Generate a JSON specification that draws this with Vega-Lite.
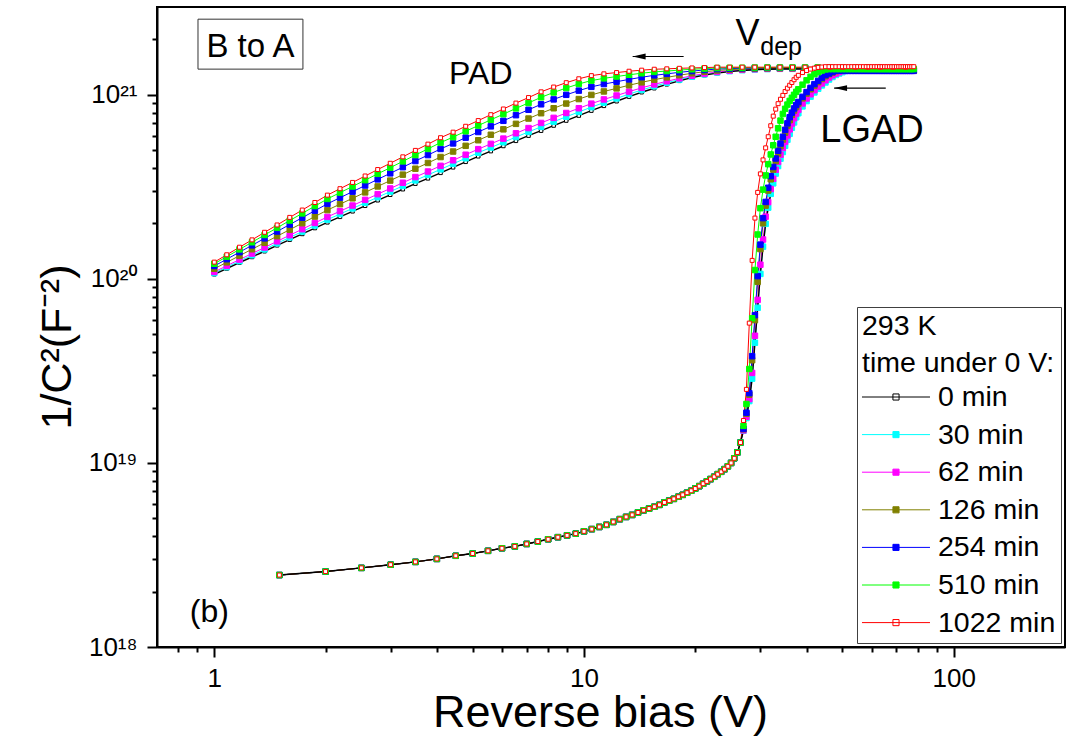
{"$schema":"https://vega.github.io/schema/vega-lite/v6.json","width":908,"height":640,"autosize":{"type":"none"},"padding":{"left":157,"top":7,"right":11,"bottom":94},"background":"white",
"config":{"font":"Liberation Sans","view":{"stroke":"black","strokeWidth":2},
"legend":{"orient":"bottom-right","offset":4,"padding":5,"strokeColor":"#404040","strokeWidth":1,"fillColor":"white","titleFont":"Liberation Sans","titleFontSize":28.5,"titleFontWeight":"normal","titleColor":"black","titleLineHeight":37,"titlePadding":2,"titleLimit":400,"labelFont":"Liberation Sans","labelFontSize":28.5,"labelColor":"black","labelLimit":400,"labelOffset":41,"symbolSize":1156,"symbolStrokeWidth":1,"symbolOffset":0,"rowPadding":5.6}},
"data":{"values":[
{"t":0,"d":"P","V":1,"C":1.059e20},{"t":0,"d":"P","V":1.081,"C":1.138e20},{"t":0,"d":"P","V":1.17,"C":1.225e20},{"t":0,"d":"P","V":1.265,"C":1.315e20},{"t":0,"d":"P","V":1.368,"C":1.413e20},{"t":0,"d":"P","V":1.479,"C":1.521e20},{"t":0,"d":"P","V":1.6,"C":1.633e20},{"t":0,"d":"P","V":1.73,"C":1.754e20},{"t":0,"d":"P","V":1.871,"C":1.888e20},{"t":0,"d":"P","V":2.023,"C":2.028e20},{"t":0,"d":"P","V":2.188,"C":2.173e20},{"t":0,"d":"P","V":2.366,"C":2.328e20},{"t":0,"d":"P","V":2.559,"C":2.495e20},{"t":0,"d":"P","V":2.767,"C":2.673e20},{"t":0,"d":"P","V":2.992,"C":2.864e20},{"t":0,"d":"P","V":3.236,"C":3.069e20},{"t":0,"d":"P","V":3.499,"C":3.289e20},{"t":0,"d":"P","V":3.784,"C":3.516e20},{"t":0,"d":"P","V":4.093,"C":3.767e20},{"t":0,"d":"P","V":4.426,"C":4.036e20},{"t":0,"d":"P","V":4.786,"C":4.325e20},{"t":0,"d":"P","V":5.176,"C":4.634e20},{"t":0,"d":"P","V":5.598,"C":4.943e20},{"t":0,"d":"P","V":6.053,"C":5.272e20},{"t":0,"d":"P","V":6.546,"C":5.623e20},{"t":0,"d":"P","V":7.079,"C":5.998e20},{"t":0,"d":"P","V":7.656,"C":6.383e20},{"t":0,"d":"P","V":8.279,"C":6.808e20},{"t":0,"d":"P","V":8.954,"C":7.244e20},{"t":0,"d":"P","V":9.683,"C":7.709e20},{"t":0,"d":"P","V":10.47,"C":8.204e20},{"t":0,"d":"P","V":11.32,"C":8.71e20},{"t":0,"d":"P","V":12.25,"C":9.226e20},{"t":0,"d":"P","V":13.24,"C":9.772e20},{"t":0,"d":"P","V":14.32,"C":1.033e21},{"t":0,"d":"P","V":15.49,"C":1.086e21},{"t":0,"d":"P","V":16.75,"C":1.14e21},{"t":0,"d":"P","V":18.11,"C":1.191e21},{"t":0,"d":"P","V":19.59,"C":1.239e21},{"t":0,"d":"P","V":21.18,"C":1.279e21},{"t":0,"d":"P","V":22.91,"C":1.312e21},{"t":0,"d":"P","V":24.77,"C":1.337e21},{"t":0,"d":"P","V":26.79,"C":1.355e21},{"t":0,"d":"P","V":28.97,"C":1.368e21},{"t":0,"d":"P","V":31.33,"C":1.377e21},{"t":0,"d":"P","V":33.88,"C":1.38e21},{"t":0,"d":"P","V":36.64,"C":1.38e21},{"t":0,"d":"P","V":39.63,"C":1.38e21},{"t":0,"d":"P","V":42.85,"C":1.38e21},{"t":0,"d":"P","V":46.34,"C":1.38e21},{"t":0,"d":"P","V":50.12,"C":1.38e21},{"t":0,"d":"P","V":54.2,"C":1.38e21},{"t":0,"d":"P","V":58.61,"C":1.38e21},{"t":0,"d":"P","V":63.39,"C":1.38e21},{"t":0,"d":"P","V":68.55,"C":1.38e21},{"t":0,"d":"P","V":74.13,"C":1.38e21},
{"t":0,"d":"L","V":1.5,"C":2.46e18},{"t":0,"d":"L","V":2,"C":2.57e18},{"t":0,"d":"L","V":2.5,"C":2.69e18},{"t":0,"d":"L","V":3,"C":2.8e18},{"t":0,"d":"L","V":3.5,"C":2.9e18},{"t":0,"d":"L","V":4,"C":3.01e18},{"t":0,"d":"L","V":4.5,"C":3.13e18},{"t":0,"d":"L","V":5,"C":3.22e18},{"t":0,"d":"L","V":5.5,"C":3.33e18},{"t":0,"d":"L","V":6,"C":3.44e18},{"t":0,"d":"L","V":6.5,"C":3.52e18},{"t":0,"d":"L","V":7,"C":3.63e18},{"t":0,"d":"L","V":7.5,"C":3.74e18},{"t":0,"d":"L","V":8,"C":3.85e18},{"t":0,"d":"L","V":8.5,"C":3.95e18},{"t":0,"d":"L","V":9,"C":4.04e18},{"t":0,"d":"L","V":9.5,"C":4.13e18},{"t":0,"d":"L","V":10,"C":4.25e18},{"t":0,"d":"L","V":10.5,"C":4.37e18},{"t":0,"d":"L","V":11,"C":4.49e18},{"t":0,"d":"L","V":11.5,"C":4.61e18},{"t":0,"d":"L","V":12,"C":4.78e18},{"t":0,"d":"L","V":12.5,"C":4.95e18},{"t":0,"d":"L","V":13,"C":5.09e18},{"t":0,"d":"L","V":13.5,"C":5.22e18},{"t":0,"d":"L","V":14,"C":5.38e18},{"t":0,"d":"L","V":14.5,"C":5.53e18},{"t":0,"d":"L","V":15,"C":5.65e18},{"t":0,"d":"L","V":15.5,"C":5.78e18},{"t":0,"d":"L","V":16,"C":5.92e18},{"t":0,"d":"L","V":16.5,"C":6.1e18},{"t":0,"d":"L","V":17,"C":6.24e18},{"t":0,"d":"L","V":17.5,"C":6.38e18},{"t":0,"d":"L","V":18,"C":6.55e18},{"t":0,"d":"L","V":18.5,"C":6.71e18},{"t":0,"d":"L","V":19,"C":6.89e18},{"t":0,"d":"L","V":19.5,"C":7.06e18},{"t":0,"d":"L","V":20,"C":7.26e18},{"t":0,"d":"L","V":20.5,"C":7.48e18},{"t":0,"d":"L","V":21,"C":7.71e18},{"t":0,"d":"L","V":21.5,"C":7.94e18},{"t":0,"d":"L","V":22,"C":8.17e18},{"t":0,"d":"L","V":22.5,"C":8.41e18},{"t":0,"d":"L","V":23,"C":8.69e18},{"t":0,"d":"L","V":23.5,"C":8.95e18},{"t":0,"d":"L","V":24,"C":9.25e18},{"t":0,"d":"L","V":24.5,"C":9.59e18},{"t":0,"d":"L","V":25,"C":1e19},{"t":0,"d":"L","V":25.5,"C":1.06e19},{"t":0,"d":"L","V":26,"C":1.14e19},{"t":0,"d":"L","V":26.5,"C":1.29e19},
{"t":0,"d":"L","V":27,"C":1.496e19},{"t":0,"d":"L","V":27.5,"C":1.754e19},{"t":0,"d":"L","V":28,"C":2.168e19},{"t":0,"d":"L","V":28.5,"C":2.871e19},{"t":0,"d":"L","V":29,"C":4.498e19},{"t":0,"d":"L","V":29.5,"C":6.966e19},{"t":0,"d":"L","V":30,"C":1.064e20},{"t":0,"d":"L","V":30.5,"C":1.496e20},{"t":0,"d":"L","V":31,"C":1.991e20},{"t":0,"d":"L","V":31.5,"C":2.438e20},{"t":0,"d":"L","V":32,"C":2.897e20},{"t":0,"d":"L","V":32.5,"C":3.304e20},{"t":0,"d":"L","V":33,"C":3.733e20},{"t":0,"d":"L","V":33.5,"C":4.102e20},{"t":0,"d":"L","V":34,"C":4.498e20},{"t":0,"d":"L","V":34.5,"C":4.887e20},{"t":0,"d":"L","V":35,"C":5.284e20},{"t":0,"d":"L","V":35.5,"C":5.702e20},{"t":0,"d":"L","V":36,"C":6.138e20},{"t":0,"d":"L","V":36.5,"C":6.622e20},{"t":0,"d":"L","V":37,"C":7.079e20},{"t":0,"d":"L","V":37.5,"C":7.551e20},{"t":0,"d":"L","V":38,"C":7.943e20},{"t":0,"d":"L","V":39,"C":8.65e20},{"t":0,"d":"L","V":40,"C":9.247e20},{"t":0,"d":"L","V":41,"C":9.772e20},{"t":0,"d":"L","V":42,"C":1.03e21},{"t":0,"d":"L","V":43,"C":1.079e21},{"t":0,"d":"L","V":44,"C":1.125e21},{"t":0,"d":"L","V":45,"C":1.167e21},{"t":0,"d":"L","V":46,"C":1.211e21},{"t":0,"d":"L","V":47,"C":1.25e21},{"t":0,"d":"L","V":48,"C":1.282e21},{"t":0,"d":"L","V":49,"C":1.306e21},{"t":0,"d":"L","V":50,"C":1.327e21},{"t":0,"d":"L","V":51,"C":1.346e21},{"t":0,"d":"L","V":52,"C":1.349e21},{"t":0,"d":"L","V":53,"C":1.349e21},{"t":0,"d":"L","V":54,"C":1.349e21},{"t":0,"d":"L","V":55,"C":1.349e21},{"t":0,"d":"L","V":56,"C":1.349e21},{"t":0,"d":"L","V":57,"C":1.349e21},{"t":0,"d":"L","V":58,"C":1.349e21},{"t":0,"d":"L","V":59,"C":1.349e21},{"t":0,"d":"L","V":60,"C":1.349e21},{"t":0,"d":"L","V":61,"C":1.349e21},{"t":0,"d":"L","V":62,"C":1.349e21},{"t":0,"d":"L","V":63,"C":1.349e21},{"t":0,"d":"L","V":64,"C":1.349e21},{"t":0,"d":"L","V":65,"C":1.349e21},{"t":0,"d":"L","V":66,"C":1.349e21},{"t":0,"d":"L","V":67,"C":1.349e21},{"t":0,"d":"L","V":68,"C":1.349e21},{"t":0,"d":"L","V":69,"C":1.349e21},{"t":0,"d":"L","V":70,"C":1.349e21},{"t":0,"d":"L","V":71,"C":1.349e21},{"t":0,"d":"L","V":72,"C":1.349e21},{"t":0,"d":"L","V":73,"C":1.349e21},{"t":0,"d":"L","V":74,"C":1.349e21},{"t":0,"d":"L","V":75,"C":1.349e21},{"t":0,"d":"L","V":76,"C":1.349e21},{"t":0,"d":"L","V":77,"C":1.349e21},{"t":0,"d":"L","V":78,"C":1.349e21},
{"t":30,"d":"P","V":1,"C":1.075e20},{"t":30,"d":"P","V":1.081,"C":1.158e20},{"t":30,"d":"P","V":1.17,"C":1.248e20},{"t":30,"d":"P","V":1.265,"C":1.344e20},{"t":30,"d":"P","V":1.368,"C":1.446e20},{"t":30,"d":"P","V":1.479,"C":1.56e20},{"t":30,"d":"P","V":1.6,"C":1.68e20},{"t":30,"d":"P","V":1.73,"C":1.807e20},{"t":30,"d":"P","V":1.871,"C":1.949e20},{"t":30,"d":"P","V":2.023,"C":2.098e20},{"t":30,"d":"P","V":2.188,"C":2.25e20},{"t":30,"d":"P","V":2.366,"C":2.414e20},{"t":30,"d":"P","V":2.559,"C":2.589e20},{"t":30,"d":"P","V":2.767,"C":2.778e20},{"t":30,"d":"P","V":2.992,"C":2.98e20},{"t":30,"d":"P","V":3.236,"C":3.197e20},{"t":30,"d":"P","V":3.499,"C":3.428e20},{"t":30,"d":"P","V":3.784,"C":3.67e20},{"t":30,"d":"P","V":4.093,"C":3.936e20},{"t":30,"d":"P","V":4.426,"C":4.218e20},{"t":30,"d":"P","V":4.786,"C":4.522e20},{"t":30,"d":"P","V":5.176,"C":4.847e20},{"t":30,"d":"P","V":5.598,"C":5.173e20},{"t":30,"d":"P","V":6.053,"C":5.522e20},{"t":30,"d":"P","V":6.546,"C":5.895e20},{"t":30,"d":"P","V":7.079,"C":6.291e20},{"t":30,"d":"P","V":7.656,"C":6.698e20},{"t":30,"d":"P","V":8.279,"C":7.143e20},{"t":30,"d":"P","V":8.954,"C":7.598e20},{"t":30,"d":"P","V":9.683,"C":8.072e20},{"t":30,"d":"P","V":10.47,"C":8.57e20},{"t":30,"d":"P","V":11.32,"C":9.065e20},{"t":30,"d":"P","V":12.25,"C":9.563e20},{"t":30,"d":"P","V":13.24,"C":1.009e21},{"t":30,"d":"P","V":14.32,"C":1.062e21},{"t":30,"d":"P","V":15.49,"C":1.113e21},{"t":30,"d":"P","V":16.75,"C":1.163e21},{"t":30,"d":"P","V":18.11,"C":1.21e21},{"t":30,"d":"P","V":19.59,"C":1.254e21},{"t":30,"d":"P","V":21.18,"C":1.291e21},{"t":30,"d":"P","V":22.91,"C":1.322e21},{"t":30,"d":"P","V":24.77,"C":1.344e21},{"t":30,"d":"P","V":26.79,"C":1.361e21},{"t":30,"d":"P","V":28.97,"C":1.372e21},{"t":30,"d":"P","V":31.33,"C":1.38e21},{"t":30,"d":"P","V":33.88,"C":1.384e21},{"t":30,"d":"P","V":36.64,"C":1.384e21},{"t":30,"d":"P","V":39.63,"C":1.384e21},{"t":30,"d":"P","V":42.85,"C":1.384e21},{"t":30,"d":"P","V":46.34,"C":1.384e21},{"t":30,"d":"P","V":50.12,"C":1.384e21},{"t":30,"d":"P","V":54.2,"C":1.384e21},{"t":30,"d":"P","V":58.61,"C":1.384e21},{"t":30,"d":"P","V":63.39,"C":1.384e21},{"t":30,"d":"P","V":68.55,"C":1.384e21},{"t":30,"d":"P","V":74.13,"C":1.384e21},
{"t":30,"d":"L","V":1.5,"C":2.46e18},{"t":30,"d":"L","V":2,"C":2.57e18},{"t":30,"d":"L","V":2.5,"C":2.69e18},{"t":30,"d":"L","V":3,"C":2.8e18},{"t":30,"d":"L","V":3.5,"C":2.9e18},{"t":30,"d":"L","V":4,"C":3.01e18},{"t":30,"d":"L","V":4.5,"C":3.13e18},{"t":30,"d":"L","V":5,"C":3.22e18},{"t":30,"d":"L","V":5.5,"C":3.33e18},{"t":30,"d":"L","V":6,"C":3.44e18},{"t":30,"d":"L","V":6.5,"C":3.52e18},{"t":30,"d":"L","V":7,"C":3.63e18},{"t":30,"d":"L","V":7.5,"C":3.74e18},{"t":30,"d":"L","V":8,"C":3.85e18},{"t":30,"d":"L","V":8.5,"C":3.95e18},{"t":30,"d":"L","V":9,"C":4.04e18},{"t":30,"d":"L","V":9.5,"C":4.13e18},{"t":30,"d":"L","V":10,"C":4.25e18},{"t":30,"d":"L","V":10.5,"C":4.37e18},{"t":30,"d":"L","V":11,"C":4.49e18},{"t":30,"d":"L","V":11.5,"C":4.61e18},{"t":30,"d":"L","V":12,"C":4.78e18},{"t":30,"d":"L","V":12.5,"C":4.95e18},{"t":30,"d":"L","V":13,"C":5.09e18},{"t":30,"d":"L","V":13.5,"C":5.22e18},{"t":30,"d":"L","V":14,"C":5.38e18},{"t":30,"d":"L","V":14.5,"C":5.53e18},{"t":30,"d":"L","V":15,"C":5.65e18},{"t":30,"d":"L","V":15.5,"C":5.78e18},{"t":30,"d":"L","V":16,"C":5.92e18},{"t":30,"d":"L","V":16.5,"C":6.1e18},{"t":30,"d":"L","V":17,"C":6.24e18},{"t":30,"d":"L","V":17.5,"C":6.38e18},{"t":30,"d":"L","V":18,"C":6.55e18},{"t":30,"d":"L","V":18.5,"C":6.71e18},{"t":30,"d":"L","V":19,"C":6.89e18},{"t":30,"d":"L","V":19.5,"C":7.06e18},{"t":30,"d":"L","V":20,"C":7.26e18},{"t":30,"d":"L","V":20.5,"C":7.48e18},{"t":30,"d":"L","V":21,"C":7.71e18},{"t":30,"d":"L","V":21.5,"C":7.94e18},{"t":30,"d":"L","V":22,"C":8.17e18},{"t":30,"d":"L","V":22.5,"C":8.41e18},{"t":30,"d":"L","V":23,"C":8.69e18},{"t":30,"d":"L","V":23.5,"C":8.95e18},{"t":30,"d":"L","V":24,"C":9.25e18},{"t":30,"d":"L","V":24.5,"C":9.59e18},{"t":30,"d":"L","V":25,"C":1e19},{"t":30,"d":"L","V":25.5,"C":1.06e19},{"t":30,"d":"L","V":26,"C":1.14e19},{"t":30,"d":"L","V":26.5,"C":1.29e19},
{"t":30,"d":"L","V":27,"C":1.496e19},{"t":30,"d":"L","V":27.5,"C":1.754e19},{"t":30,"d":"L","V":28,"C":2.168e19},{"t":30,"d":"L","V":28.5,"C":2.871e19},{"t":30,"d":"L","V":29,"C":4.498e19},{"t":30,"d":"L","V":29.5,"C":6.966e19},{"t":30,"d":"L","V":30,"C":1.064e20},{"t":30,"d":"L","V":30.5,"C":1.496e20},{"t":30,"d":"L","V":31,"C":1.991e20},{"t":30,"d":"L","V":31.5,"C":2.438e20},{"t":30,"d":"L","V":32,"C":2.897e20},{"t":30,"d":"L","V":32.5,"C":3.304e20},{"t":30,"d":"L","V":33,"C":3.733e20},{"t":30,"d":"L","V":33.5,"C":4.102e20},{"t":30,"d":"L","V":34,"C":4.498e20},{"t":30,"d":"L","V":34.5,"C":4.887e20},{"t":30,"d":"L","V":35,"C":5.284e20},{"t":30,"d":"L","V":35.5,"C":5.702e20},{"t":30,"d":"L","V":36,"C":6.138e20},{"t":30,"d":"L","V":36.5,"C":6.622e20},{"t":30,"d":"L","V":37,"C":7.079e20},{"t":30,"d":"L","V":37.5,"C":7.551e20},{"t":30,"d":"L","V":38,"C":7.943e20},{"t":30,"d":"L","V":39,"C":8.65e20},{"t":30,"d":"L","V":40,"C":9.247e20},{"t":30,"d":"L","V":41,"C":9.772e20},{"t":30,"d":"L","V":42,"C":1.03e21},{"t":30,"d":"L","V":43,"C":1.079e21},{"t":30,"d":"L","V":44,"C":1.125e21},{"t":30,"d":"L","V":45,"C":1.167e21},{"t":30,"d":"L","V":46,"C":1.211e21},{"t":30,"d":"L","V":47,"C":1.25e21},{"t":30,"d":"L","V":48,"C":1.282e21},{"t":30,"d":"L","V":49,"C":1.306e21},{"t":30,"d":"L","V":50,"C":1.327e21},{"t":30,"d":"L","V":51,"C":1.346e21},{"t":30,"d":"L","V":52,"C":1.349e21},{"t":30,"d":"L","V":53,"C":1.349e21},{"t":30,"d":"L","V":54,"C":1.349e21},{"t":30,"d":"L","V":55,"C":1.349e21},{"t":30,"d":"L","V":56,"C":1.349e21},{"t":30,"d":"L","V":57,"C":1.349e21},{"t":30,"d":"L","V":58,"C":1.349e21},{"t":30,"d":"L","V":59,"C":1.349e21},{"t":30,"d":"L","V":60,"C":1.349e21},{"t":30,"d":"L","V":61,"C":1.349e21},{"t":30,"d":"L","V":62,"C":1.349e21},{"t":30,"d":"L","V":63,"C":1.349e21},{"t":30,"d":"L","V":64,"C":1.349e21},{"t":30,"d":"L","V":65,"C":1.349e21},{"t":30,"d":"L","V":66,"C":1.349e21},{"t":30,"d":"L","V":67,"C":1.349e21},{"t":30,"d":"L","V":68,"C":1.349e21},{"t":30,"d":"L","V":69,"C":1.349e21},{"t":30,"d":"L","V":70,"C":1.349e21},{"t":30,"d":"L","V":71,"C":1.349e21},{"t":30,"d":"L","V":72,"C":1.349e21},{"t":30,"d":"L","V":73,"C":1.349e21},{"t":30,"d":"L","V":74,"C":1.349e21},{"t":30,"d":"L","V":75,"C":1.349e21},{"t":30,"d":"L","V":76,"C":1.349e21},{"t":30,"d":"L","V":77,"C":1.349e21},{"t":30,"d":"L","V":78,"C":1.349e21},
{"t":62,"d":"P","V":1,"C":1.091e20},{"t":62,"d":"P","V":1.081,"C":1.178e20},{"t":62,"d":"P","V":1.17,"C":1.273e20},{"t":62,"d":"P","V":1.265,"C":1.373e20},{"t":62,"d":"P","V":1.368,"C":1.481e20},{"t":62,"d":"P","V":1.479,"C":1.6e20},{"t":62,"d":"P","V":1.6,"C":1.727e20},{"t":62,"d":"P","V":1.73,"C":1.862e20},{"t":62,"d":"P","V":1.871,"C":2.013e20},{"t":62,"d":"P","V":2.023,"C":2.171e20},{"t":62,"d":"P","V":2.188,"C":2.331e20},{"t":62,"d":"P","V":2.366,"C":2.503e20},{"t":62,"d":"P","V":2.559,"C":2.688e20},{"t":62,"d":"P","V":2.767,"C":2.886e20},{"t":62,"d":"P","V":2.992,"C":3.099e20},{"t":62,"d":"P","V":3.236,"C":3.329e20},{"t":62,"d":"P","V":3.499,"C":3.574e20},{"t":62,"d":"P","V":3.784,"C":3.831e20},{"t":62,"d":"P","V":4.093,"C":4.113e20},{"t":62,"d":"P","V":4.426,"C":4.408e20},{"t":62,"d":"P","V":4.786,"C":4.727e20},{"t":62,"d":"P","V":5.176,"C":5.068e20},{"t":62,"d":"P","V":5.598,"C":5.416e20},{"t":62,"d":"P","V":6.053,"C":5.783e20},{"t":62,"d":"P","V":6.546,"C":6.18e20},{"t":62,"d":"P","V":7.079,"C":6.597e20},{"t":62,"d":"P","V":7.656,"C":7.033e20},{"t":62,"d":"P","V":8.279,"C":7.494e20},{"t":62,"d":"P","V":8.954,"C":7.965e20},{"t":62,"d":"P","V":9.683,"C":8.453e20},{"t":62,"d":"P","V":10.47,"C":8.954e20},{"t":62,"d":"P","V":11.32,"C":9.437e20},{"t":62,"d":"P","V":12.25,"C":9.913e20},{"t":62,"d":"P","V":13.24,"C":1.041e21},{"t":62,"d":"P","V":14.32,"C":1.091e21},{"t":62,"d":"P","V":15.49,"C":1.139e21},{"t":62,"d":"P","V":16.75,"C":1.185e21},{"t":62,"d":"P","V":18.11,"C":1.229e21},{"t":62,"d":"P","V":19.59,"C":1.269e21},{"t":62,"d":"P","V":21.18,"C":1.303e21},{"t":62,"d":"P","V":22.91,"C":1.331e21},{"t":62,"d":"P","V":24.77,"C":1.352e21},{"t":62,"d":"P","V":26.79,"C":1.367e21},{"t":62,"d":"P","V":28.97,"C":1.377e21},{"t":62,"d":"P","V":31.33,"C":1.384e21},{"t":62,"d":"P","V":33.88,"C":1.387e21},{"t":62,"d":"P","V":36.64,"C":1.387e21},{"t":62,"d":"P","V":39.63,"C":1.387e21},{"t":62,"d":"P","V":42.85,"C":1.387e21},{"t":62,"d":"P","V":46.34,"C":1.387e21},{"t":62,"d":"P","V":50.12,"C":1.387e21},{"t":62,"d":"P","V":54.2,"C":1.387e21},{"t":62,"d":"P","V":58.61,"C":1.387e21},{"t":62,"d":"P","V":63.39,"C":1.387e21},{"t":62,"d":"P","V":68.55,"C":1.387e21},{"t":62,"d":"P","V":74.13,"C":1.387e21},
{"t":62,"d":"L","V":1.5,"C":2.46e18},{"t":62,"d":"L","V":2,"C":2.57e18},{"t":62,"d":"L","V":2.5,"C":2.69e18},{"t":62,"d":"L","V":3,"C":2.8e18},{"t":62,"d":"L","V":3.5,"C":2.9e18},{"t":62,"d":"L","V":4,"C":3.01e18},{"t":62,"d":"L","V":4.5,"C":3.13e18},{"t":62,"d":"L","V":5,"C":3.22e18},{"t":62,"d":"L","V":5.5,"C":3.33e18},{"t":62,"d":"L","V":6,"C":3.44e18},{"t":62,"d":"L","V":6.5,"C":3.52e18},{"t":62,"d":"L","V":7,"C":3.63e18},{"t":62,"d":"L","V":7.5,"C":3.74e18},{"t":62,"d":"L","V":8,"C":3.85e18},{"t":62,"d":"L","V":8.5,"C":3.95e18},{"t":62,"d":"L","V":9,"C":4.04e18},{"t":62,"d":"L","V":9.5,"C":4.13e18},{"t":62,"d":"L","V":10,"C":4.25e18},{"t":62,"d":"L","V":10.5,"C":4.37e18},{"t":62,"d":"L","V":11,"C":4.49e18},{"t":62,"d":"L","V":11.5,"C":4.61e18},{"t":62,"d":"L","V":12,"C":4.78e18},{"t":62,"d":"L","V":12.5,"C":4.95e18},{"t":62,"d":"L","V":13,"C":5.09e18},{"t":62,"d":"L","V":13.5,"C":5.22e18},{"t":62,"d":"L","V":14,"C":5.38e18},{"t":62,"d":"L","V":14.5,"C":5.53e18},{"t":62,"d":"L","V":15,"C":5.65e18},{"t":62,"d":"L","V":15.5,"C":5.78e18},{"t":62,"d":"L","V":16,"C":5.92e18},{"t":62,"d":"L","V":16.5,"C":6.1e18},{"t":62,"d":"L","V":17,"C":6.24e18},{"t":62,"d":"L","V":17.5,"C":6.38e18},{"t":62,"d":"L","V":18,"C":6.55e18},{"t":62,"d":"L","V":18.5,"C":6.71e18},{"t":62,"d":"L","V":19,"C":6.89e18},{"t":62,"d":"L","V":19.5,"C":7.06e18},{"t":62,"d":"L","V":20,"C":7.26e18},{"t":62,"d":"L","V":20.5,"C":7.48e18},{"t":62,"d":"L","V":21,"C":7.71e18},{"t":62,"d":"L","V":21.5,"C":7.94e18},{"t":62,"d":"L","V":22,"C":8.17e18},{"t":62,"d":"L","V":22.5,"C":8.41e18},{"t":62,"d":"L","V":23,"C":8.69e18},{"t":62,"d":"L","V":23.5,"C":8.95e18},{"t":62,"d":"L","V":24,"C":9.25e18},{"t":62,"d":"L","V":24.5,"C":9.59e18},{"t":62,"d":"L","V":25,"C":1e19},{"t":62,"d":"L","V":25.5,"C":1.06e19},{"t":62,"d":"L","V":26,"C":1.14e19},{"t":62,"d":"L","V":26.5,"C":1.29e19},
{"t":62,"d":"L","V":27,"C":1.503e19},{"t":62,"d":"L","V":27.5,"C":1.782e19},{"t":62,"d":"L","V":28,"C":2.223e19},{"t":62,"d":"L","V":28.5,"C":3.083e19},{"t":62,"d":"L","V":29,"C":4.909e19},{"t":62,"d":"L","V":29.5,"C":7.691e19},{"t":62,"d":"L","V":30,"C":1.194e20},{"t":62,"d":"L","V":30.5,"C":1.637e20},{"t":62,"d":"L","V":31,"C":2.178e20},{"t":62,"d":"L","V":31.5,"C":2.612e20},{"t":62,"d":"L","V":32,"C":3.076e20},{"t":62,"d":"L","V":32.5,"C":3.499e20},{"t":62,"d":"L","V":33,"C":3.917e20},{"t":62,"d":"L","V":33.5,"C":4.325e20},{"t":62,"d":"L","V":34,"C":4.721e20},{"t":62,"d":"L","V":34.5,"C":5.14e20},{"t":62,"d":"L","V":35,"C":5.559e20},{"t":62,"d":"L","V":35.5,"C":6.012e20},{"t":62,"d":"L","V":36,"C":6.486e20},{"t":62,"d":"L","V":36.5,"C":6.982e20},{"t":62,"d":"L","V":37,"C":7.464e20},{"t":62,"d":"L","V":37.5,"C":7.907e20},{"t":62,"d":"L","V":38,"C":8.299e20},{"t":62,"d":"L","V":39,"C":8.974e20},{"t":62,"d":"L","V":40,"C":9.55e20},{"t":62,"d":"L","V":41,"C":1.007e21},{"t":62,"d":"L","V":42,"C":1.059e21},{"t":62,"d":"L","V":43,"C":1.109e21},{"t":62,"d":"L","V":44,"C":1.153e21},{"t":62,"d":"L","V":45,"C":1.199e21},{"t":62,"d":"L","V":46,"C":1.242e21},{"t":62,"d":"L","V":47,"C":1.276e21},{"t":62,"d":"L","V":48,"C":1.303e21},{"t":62,"d":"L","V":49,"C":1.327e21},{"t":62,"d":"L","V":50,"C":1.346e21},{"t":62,"d":"L","V":51,"C":1.349e21},{"t":62,"d":"L","V":52,"C":1.349e21},{"t":62,"d":"L","V":53,"C":1.349e21},{"t":62,"d":"L","V":54,"C":1.349e21},{"t":62,"d":"L","V":55,"C":1.349e21},{"t":62,"d":"L","V":56,"C":1.349e21},{"t":62,"d":"L","V":57,"C":1.349e21},{"t":62,"d":"L","V":58,"C":1.349e21},{"t":62,"d":"L","V":59,"C":1.349e21},{"t":62,"d":"L","V":60,"C":1.349e21},{"t":62,"d":"L","V":61,"C":1.349e21},{"t":62,"d":"L","V":62,"C":1.349e21},{"t":62,"d":"L","V":63,"C":1.349e21},{"t":62,"d":"L","V":64,"C":1.349e21},{"t":62,"d":"L","V":65,"C":1.349e21},{"t":62,"d":"L","V":66,"C":1.349e21},{"t":62,"d":"L","V":67,"C":1.349e21},{"t":62,"d":"L","V":68,"C":1.349e21},{"t":62,"d":"L","V":69,"C":1.349e21},{"t":62,"d":"L","V":70,"C":1.349e21},{"t":62,"d":"L","V":71,"C":1.349e21},{"t":62,"d":"L","V":72,"C":1.349e21},{"t":62,"d":"L","V":73,"C":1.349e21},{"t":62,"d":"L","V":74,"C":1.349e21},{"t":62,"d":"L","V":75,"C":1.349e21},{"t":62,"d":"L","V":76,"C":1.349e21},{"t":62,"d":"L","V":77,"C":1.349e21},{"t":62,"d":"L","V":78,"C":1.349e21},
{"t":126,"d":"P","V":1,"C":1.135e20},{"t":126,"d":"P","V":1.081,"C":1.23e20},{"t":126,"d":"P","V":1.17,"C":1.336e20},{"t":126,"d":"P","V":1.265,"C":1.449e20},{"t":126,"d":"P","V":1.368,"C":1.572e20},{"t":126,"d":"P","V":1.479,"C":1.706e20},{"t":126,"d":"P","V":1.6,"C":1.851e20},{"t":126,"d":"P","V":1.73,"C":2.007e20},{"t":126,"d":"P","V":1.871,"C":2.181e20},{"t":126,"d":"P","V":2.023,"C":2.364e20},{"t":126,"d":"P","V":2.188,"C":2.546e20},{"t":126,"d":"P","V":2.366,"C":2.74e20},{"t":126,"d":"P","V":2.559,"C":2.951e20},{"t":126,"d":"P","V":2.767,"C":3.178e20},{"t":126,"d":"P","V":2.992,"C":3.42e20},{"t":126,"d":"P","V":3.236,"C":3.684e20},{"t":126,"d":"P","V":3.499,"C":3.968e20},{"t":126,"d":"P","V":3.784,"C":4.264e20},{"t":126,"d":"P","V":4.093,"C":4.592e20},{"t":126,"d":"P","V":4.426,"C":4.92e20},{"t":126,"d":"P","V":4.786,"C":5.284e20},{"t":126,"d":"P","V":5.176,"C":5.666e20},{"t":126,"d":"P","V":5.598,"C":6.068e20},{"t":126,"d":"P","V":6.053,"C":6.494e20},{"t":126,"d":"P","V":6.546,"C":6.955e20},{"t":126,"d":"P","V":7.079,"C":7.433e20},{"t":126,"d":"P","V":7.656,"C":7.943e20},{"t":126,"d":"P","V":8.279,"C":8.453e20},{"t":126,"d":"P","V":8.954,"C":8.966e20},{"t":126,"d":"P","V":9.683,"C":9.484e20},{"t":126,"d":"P","V":10.47,"C":9.989e20},{"t":126,"d":"P","V":11.32,"C":1.043e21},{"t":126,"d":"P","V":12.25,"C":1.084e21},{"t":126,"d":"P","V":13.24,"C":1.127e21},{"t":126,"d":"P","V":14.32,"C":1.169e21},{"t":126,"d":"P","V":15.49,"C":1.209e21},{"t":126,"d":"P","V":16.75,"C":1.244e21},{"t":126,"d":"P","V":18.11,"C":1.278e21},{"t":126,"d":"P","V":19.59,"C":1.309e21},{"t":126,"d":"P","V":21.18,"C":1.335e21},{"t":126,"d":"P","V":22.91,"C":1.356e21},{"t":126,"d":"P","V":24.77,"C":1.37e21},{"t":126,"d":"P","V":26.79,"C":1.38e21},{"t":126,"d":"P","V":28.97,"C":1.388e21},{"t":126,"d":"P","V":31.33,"C":1.393e21},{"t":126,"d":"P","V":33.88,"C":1.394e21},{"t":126,"d":"P","V":36.64,"C":1.394e21},{"t":126,"d":"P","V":39.63,"C":1.394e21},{"t":126,"d":"P","V":42.85,"C":1.394e21},{"t":126,"d":"P","V":46.34,"C":1.394e21},{"t":126,"d":"P","V":50.12,"C":1.394e21},{"t":126,"d":"P","V":54.2,"C":1.394e21},{"t":126,"d":"P","V":58.61,"C":1.394e21},{"t":126,"d":"P","V":63.39,"C":1.394e21},{"t":126,"d":"P","V":68.55,"C":1.394e21},{"t":126,"d":"P","V":74.13,"C":1.394e21},
{"t":126,"d":"L","V":1.5,"C":2.46e18},{"t":126,"d":"L","V":2,"C":2.57e18},{"t":126,"d":"L","V":2.5,"C":2.69e18},{"t":126,"d":"L","V":3,"C":2.8e18},{"t":126,"d":"L","V":3.5,"C":2.9e18},{"t":126,"d":"L","V":4,"C":3.01e18},{"t":126,"d":"L","V":4.5,"C":3.13e18},{"t":126,"d":"L","V":5,"C":3.22e18},{"t":126,"d":"L","V":5.5,"C":3.33e18},{"t":126,"d":"L","V":6,"C":3.44e18},{"t":126,"d":"L","V":6.5,"C":3.52e18},{"t":126,"d":"L","V":7,"C":3.63e18},{"t":126,"d":"L","V":7.5,"C":3.74e18},{"t":126,"d":"L","V":8,"C":3.85e18},{"t":126,"d":"L","V":8.5,"C":3.95e18},{"t":126,"d":"L","V":9,"C":4.04e18},{"t":126,"d":"L","V":9.5,"C":4.13e18},{"t":126,"d":"L","V":10,"C":4.25e18},{"t":126,"d":"L","V":10.5,"C":4.37e18},{"t":126,"d":"L","V":11,"C":4.49e18},{"t":126,"d":"L","V":11.5,"C":4.61e18},{"t":126,"d":"L","V":12,"C":4.78e18},{"t":126,"d":"L","V":12.5,"C":4.95e18},{"t":126,"d":"L","V":13,"C":5.09e18},{"t":126,"d":"L","V":13.5,"C":5.22e18},{"t":126,"d":"L","V":14,"C":5.38e18},{"t":126,"d":"L","V":14.5,"C":5.53e18},{"t":126,"d":"L","V":15,"C":5.65e18},{"t":126,"d":"L","V":15.5,"C":5.78e18},{"t":126,"d":"L","V":16,"C":5.92e18},{"t":126,"d":"L","V":16.5,"C":6.1e18},{"t":126,"d":"L","V":17,"C":6.24e18},{"t":126,"d":"L","V":17.5,"C":6.38e18},{"t":126,"d":"L","V":18,"C":6.55e18},{"t":126,"d":"L","V":18.5,"C":6.71e18},{"t":126,"d":"L","V":19,"C":6.89e18},{"t":126,"d":"L","V":19.5,"C":7.06e18},{"t":126,"d":"L","V":20,"C":7.26e18},{"t":126,"d":"L","V":20.5,"C":7.48e18},{"t":126,"d":"L","V":21,"C":7.71e18},{"t":126,"d":"L","V":21.5,"C":7.94e18},{"t":126,"d":"L","V":22,"C":8.17e18},{"t":126,"d":"L","V":22.5,"C":8.41e18},{"t":126,"d":"L","V":23,"C":8.69e18},{"t":126,"d":"L","V":23.5,"C":8.95e18},{"t":126,"d":"L","V":24,"C":9.25e18},{"t":126,"d":"L","V":24.5,"C":9.59e18},{"t":126,"d":"L","V":25,"C":1e19},{"t":126,"d":"L","V":25.5,"C":1.06e19},{"t":126,"d":"L","V":26,"C":1.14e19},{"t":126,"d":"L","V":26.5,"C":1.29e19},
{"t":126,"d":"L","V":27,"C":1.524e19},{"t":126,"d":"L","V":27.5,"C":1.849e19},{"t":126,"d":"L","V":28,"C":2.35e19},{"t":126,"d":"L","V":28.5,"C":3.614e19},{"t":126,"d":"L","V":29,"C":5.97e19},{"t":126,"d":"L","V":29.5,"C":9.638e19},{"t":126,"d":"L","V":30,"C":1.452e20},{"t":126,"d":"L","V":30.5,"C":2.004e20},{"t":126,"d":"L","V":31,"C":2.5e20},{"t":126,"d":"L","V":31.5,"C":3.02e20},{"t":126,"d":"L","V":32,"C":3.475e20},{"t":126,"d":"L","V":32.5,"C":3.926e20},{"t":126,"d":"L","V":33,"C":4.365e20},{"t":126,"d":"L","V":33.5,"C":4.797e20},{"t":126,"d":"L","V":34,"C":5.26e20},{"t":126,"d":"L","V":34.5,"C":5.715e20},{"t":126,"d":"L","V":35,"C":6.223e20},{"t":126,"d":"L","V":35.5,"C":6.776e20},{"t":126,"d":"L","V":36,"C":7.278e20},{"t":126,"d":"L","V":36.5,"C":7.78e20},{"t":126,"d":"L","V":37,"C":8.222e20},{"t":126,"d":"L","V":37.5,"C":8.59e20},{"t":126,"d":"L","V":38,"C":8.974e20},{"t":126,"d":"L","V":39,"C":9.572e20},{"t":126,"d":"L","V":40,"C":1.016e21},{"t":126,"d":"L","V":41,"C":1.072e21},{"t":126,"d":"L","V":42,"C":1.122e21},{"t":126,"d":"L","V":43,"C":1.172e21},{"t":126,"d":"L","V":44,"C":1.219e21},{"t":126,"d":"L","V":45,"C":1.262e21},{"t":126,"d":"L","V":46,"C":1.294e21},{"t":126,"d":"L","V":47,"C":1.321e21},{"t":126,"d":"L","V":48,"C":1.343e21},{"t":126,"d":"L","V":49,"C":1.355e21},{"t":126,"d":"L","V":50,"C":1.355e21},{"t":126,"d":"L","V":51,"C":1.355e21},{"t":126,"d":"L","V":52,"C":1.355e21},{"t":126,"d":"L","V":53,"C":1.355e21},{"t":126,"d":"L","V":54,"C":1.355e21},{"t":126,"d":"L","V":55,"C":1.355e21},{"t":126,"d":"L","V":56,"C":1.355e21},{"t":126,"d":"L","V":57,"C":1.355e21},{"t":126,"d":"L","V":58,"C":1.355e21},{"t":126,"d":"L","V":59,"C":1.355e21},{"t":126,"d":"L","V":60,"C":1.355e21},{"t":126,"d":"L","V":61,"C":1.355e21},{"t":126,"d":"L","V":62,"C":1.355e21},{"t":126,"d":"L","V":63,"C":1.355e21},{"t":126,"d":"L","V":64,"C":1.355e21},{"t":126,"d":"L","V":65,"C":1.355e21},{"t":126,"d":"L","V":66,"C":1.355e21},{"t":126,"d":"L","V":67,"C":1.355e21},{"t":126,"d":"L","V":68,"C":1.355e21},{"t":126,"d":"L","V":69,"C":1.355e21},{"t":126,"d":"L","V":70,"C":1.355e21},{"t":126,"d":"L","V":71,"C":1.355e21},{"t":126,"d":"L","V":72,"C":1.355e21},{"t":126,"d":"L","V":73,"C":1.355e21},{"t":126,"d":"L","V":74,"C":1.355e21},{"t":126,"d":"L","V":75,"C":1.355e21},{"t":126,"d":"L","V":76,"C":1.355e21},{"t":126,"d":"L","V":77,"C":1.355e21},{"t":126,"d":"L","V":78,"C":1.355e21},
{"t":254,"d":"P","V":1,"C":1.175e20},{"t":254,"d":"P","V":1.081,"C":1.279e20},{"t":254,"d":"P","V":1.17,"C":1.397e20},{"t":254,"d":"P","V":1.265,"C":1.521e20},{"t":254,"d":"P","V":1.368,"C":1.66e20},{"t":254,"d":"P","V":1.479,"C":1.809e20},{"t":254,"d":"P","V":1.6,"C":1.974e20},{"t":254,"d":"P","V":1.73,"C":2.15e20},{"t":254,"d":"P","V":1.871,"C":2.347e20},{"t":254,"d":"P","V":2.023,"C":2.556e20},{"t":254,"d":"P","V":2.188,"C":2.761e20},{"t":254,"d":"P","V":2.366,"C":2.977e20},{"t":254,"d":"P","V":2.559,"C":3.215e20},{"t":254,"d":"P","V":2.767,"C":3.472e20},{"t":254,"d":"P","V":2.992,"C":3.745e20},{"t":254,"d":"P","V":3.236,"C":4.044e20},{"t":254,"d":"P","V":3.499,"C":4.367e20},{"t":254,"d":"P","V":3.784,"C":4.705e20},{"t":254,"d":"P","V":4.093,"C":5.081e20},{"t":254,"d":"P","V":4.426,"C":5.444e20},{"t":254,"d":"P","V":4.786,"C":5.853e20},{"t":254,"d":"P","V":5.176,"C":6.28e20},{"t":254,"d":"P","V":5.598,"C":6.741e20},{"t":254,"d":"P","V":6.053,"C":7.223e20},{"t":254,"d":"P","V":6.546,"C":7.752e20},{"t":254,"d":"P","V":7.079,"C":8.293e20},{"t":254,"d":"P","V":7.656,"C":8.882e20},{"t":254,"d":"P","V":8.279,"C":9.443e20},{"t":254,"d":"P","V":8.954,"C":1e21},{"t":254,"d":"P","V":9.683,"C":1.054e21},{"t":254,"d":"P","V":10.47,"C":1.105e21},{"t":254,"d":"P","V":11.32,"C":1.144e21},{"t":254,"d":"P","V":12.25,"C":1.178e21},{"t":254,"d":"P","V":13.24,"C":1.213e21},{"t":254,"d":"P","V":14.32,"C":1.246e21},{"t":254,"d":"P","V":15.49,"C":1.276e21},{"t":254,"d":"P","V":16.75,"C":1.3e21},{"t":254,"d":"P","V":18.11,"C":1.325e21},{"t":254,"d":"P","V":19.59,"C":1.346e21},{"t":254,"d":"P","V":21.18,"C":1.364e21},{"t":254,"d":"P","V":22.91,"C":1.38e21},{"t":254,"d":"P","V":24.77,"C":1.388e21},{"t":254,"d":"P","V":26.79,"C":1.393e21},{"t":254,"d":"P","V":28.97,"C":1.398e21},{"t":254,"d":"P","V":31.33,"C":1.401e21},{"t":254,"d":"P","V":33.88,"C":1.402e21},{"t":254,"d":"P","V":36.64,"C":1.402e21},{"t":254,"d":"P","V":39.63,"C":1.402e21},{"t":254,"d":"P","V":42.85,"C":1.402e21},{"t":254,"d":"P","V":46.34,"C":1.402e21},{"t":254,"d":"P","V":50.12,"C":1.402e21},{"t":254,"d":"P","V":54.2,"C":1.402e21},{"t":254,"d":"P","V":58.61,"C":1.402e21},{"t":254,"d":"P","V":63.39,"C":1.402e21},{"t":254,"d":"P","V":68.55,"C":1.402e21},{"t":254,"d":"P","V":74.13,"C":1.402e21},
{"t":254,"d":"L","V":1.5,"C":2.46e18},{"t":254,"d":"L","V":2,"C":2.57e18},{"t":254,"d":"L","V":2.5,"C":2.69e18},{"t":254,"d":"L","V":3,"C":2.8e18},{"t":254,"d":"L","V":3.5,"C":2.9e18},{"t":254,"d":"L","V":4,"C":3.01e18},{"t":254,"d":"L","V":4.5,"C":3.13e18},{"t":254,"d":"L","V":5,"C":3.22e18},{"t":254,"d":"L","V":5.5,"C":3.33e18},{"t":254,"d":"L","V":6,"C":3.44e18},{"t":254,"d":"L","V":6.5,"C":3.52e18},{"t":254,"d":"L","V":7,"C":3.63e18},{"t":254,"d":"L","V":7.5,"C":3.74e18},{"t":254,"d":"L","V":8,"C":3.85e18},{"t":254,"d":"L","V":8.5,"C":3.95e18},{"t":254,"d":"L","V":9,"C":4.04e18},{"t":254,"d":"L","V":9.5,"C":4.13e18},{"t":254,"d":"L","V":10,"C":4.25e18},{"t":254,"d":"L","V":10.5,"C":4.37e18},{"t":254,"d":"L","V":11,"C":4.49e18},{"t":254,"d":"L","V":11.5,"C":4.61e18},{"t":254,"d":"L","V":12,"C":4.78e18},{"t":254,"d":"L","V":12.5,"C":4.95e18},{"t":254,"d":"L","V":13,"C":5.09e18},{"t":254,"d":"L","V":13.5,"C":5.22e18},{"t":254,"d":"L","V":14,"C":5.38e18},{"t":254,"d":"L","V":14.5,"C":5.53e18},{"t":254,"d":"L","V":15,"C":5.65e18},{"t":254,"d":"L","V":15.5,"C":5.78e18},{"t":254,"d":"L","V":16,"C":5.92e18},{"t":254,"d":"L","V":16.5,"C":6.1e18},{"t":254,"d":"L","V":17,"C":6.24e18},{"t":254,"d":"L","V":17.5,"C":6.38e18},{"t":254,"d":"L","V":18,"C":6.55e18},{"t":254,"d":"L","V":18.5,"C":6.71e18},{"t":254,"d":"L","V":19,"C":6.89e18},{"t":254,"d":"L","V":19.5,"C":7.06e18},{"t":254,"d":"L","V":20,"C":7.26e18},{"t":254,"d":"L","V":20.5,"C":7.48e18},{"t":254,"d":"L","V":21,"C":7.71e18},{"t":254,"d":"L","V":21.5,"C":7.94e18},{"t":254,"d":"L","V":22,"C":8.17e18},{"t":254,"d":"L","V":22.5,"C":8.41e18},{"t":254,"d":"L","V":23,"C":8.69e18},{"t":254,"d":"L","V":23.5,"C":8.95e18},{"t":254,"d":"L","V":24,"C":9.25e18},{"t":254,"d":"L","V":24.5,"C":9.59e18},{"t":254,"d":"L","V":25,"C":1e19},{"t":254,"d":"L","V":25.5,"C":1.06e19},{"t":254,"d":"L","V":26,"C":1.14e19},{"t":254,"d":"L","V":26.5,"C":1.29e19},
{"t":254,"d":"L","V":27,"C":1.531e19},{"t":254,"d":"L","V":27.5,"C":1.875e19},{"t":254,"d":"L","V":28,"C":2.393e19},{"t":254,"d":"L","V":28.5,"C":3.802e19},{"t":254,"d":"L","V":29,"C":6.353e19},{"t":254,"d":"L","V":29.5,"C":1.035e20},{"t":254,"d":"L","V":30,"C":1.535e20},{"t":254,"d":"L","V":30.5,"C":2.138e20},{"t":254,"d":"L","V":31,"C":2.618e20},{"t":254,"d":"L","V":31.5,"C":3.126e20},{"t":254,"d":"L","V":32,"C":3.614e20},{"t":254,"d":"L","V":32.5,"C":4.055e20},{"t":254,"d":"L","V":33,"C":4.508e20},{"t":254,"d":"L","V":33.5,"C":4.966e20},{"t":254,"d":"L","V":34,"C":5.433e20},{"t":254,"d":"L","V":34.5,"C":5.916e20},{"t":254,"d":"L","V":35,"C":6.457e20},{"t":254,"d":"L","V":35.5,"C":6.998e20},{"t":254,"d":"L","V":36,"C":7.551e20},{"t":254,"d":"L","V":36.5,"C":7.998e20},{"t":254,"d":"L","V":37,"C":8.433e20},{"t":254,"d":"L","V":37.5,"C":8.81e20},{"t":254,"d":"L","V":38,"C":9.141e20},{"t":254,"d":"L","V":39,"C":9.75e20},{"t":254,"d":"L","V":40,"C":1.035e21},{"t":254,"d":"L","V":41,"C":1.091e21},{"t":254,"d":"L","V":42,"C":1.143e21},{"t":254,"d":"L","V":43,"C":1.191e21},{"t":254,"d":"L","V":44,"C":1.239e21},{"t":254,"d":"L","V":45,"C":1.279e21},{"t":254,"d":"L","V":46,"C":1.306e21},{"t":254,"d":"L","V":47,"C":1.33e21},{"t":254,"d":"L","V":48,"C":1.352e21},{"t":254,"d":"L","V":49,"C":1.355e21},{"t":254,"d":"L","V":50,"C":1.355e21},{"t":254,"d":"L","V":51,"C":1.355e21},{"t":254,"d":"L","V":52,"C":1.355e21},{"t":254,"d":"L","V":53,"C":1.355e21},{"t":254,"d":"L","V":54,"C":1.355e21},{"t":254,"d":"L","V":55,"C":1.355e21},{"t":254,"d":"L","V":56,"C":1.355e21},{"t":254,"d":"L","V":57,"C":1.355e21},{"t":254,"d":"L","V":58,"C":1.355e21},{"t":254,"d":"L","V":59,"C":1.355e21},{"t":254,"d":"L","V":60,"C":1.355e21},{"t":254,"d":"L","V":61,"C":1.355e21},{"t":254,"d":"L","V":62,"C":1.355e21},{"t":254,"d":"L","V":63,"C":1.355e21},{"t":254,"d":"L","V":64,"C":1.355e21},{"t":254,"d":"L","V":65,"C":1.355e21},{"t":254,"d":"L","V":66,"C":1.355e21},{"t":254,"d":"L","V":67,"C":1.355e21},{"t":254,"d":"L","V":68,"C":1.355e21},{"t":254,"d":"L","V":69,"C":1.355e21},{"t":254,"d":"L","V":70,"C":1.355e21},{"t":254,"d":"L","V":71,"C":1.355e21},{"t":254,"d":"L","V":72,"C":1.355e21},{"t":254,"d":"L","V":73,"C":1.355e21},{"t":254,"d":"L","V":74,"C":1.355e21},{"t":254,"d":"L","V":75,"C":1.355e21},{"t":254,"d":"L","V":76,"C":1.355e21},{"t":254,"d":"L","V":77,"C":1.355e21},{"t":254,"d":"L","V":78,"C":1.355e21},
{"t":510,"d":"P","V":1,"C":1.208e20},{"t":510,"d":"P","V":1.081,"C":1.32e20},{"t":510,"d":"P","V":1.17,"C":1.446e20},{"t":510,"d":"P","V":1.265,"C":1.581e20},{"t":510,"d":"P","V":1.368,"C":1.732e20},{"t":510,"d":"P","V":1.479,"C":1.894e20},{"t":510,"d":"P","V":1.6,"C":2.075e20},{"t":510,"d":"P","V":1.73,"C":2.269e20},{"t":510,"d":"P","V":1.871,"C":2.486e20},{"t":510,"d":"P","V":2.023,"C":2.718e20},{"t":510,"d":"P","V":2.188,"C":2.942e20},{"t":510,"d":"P","V":2.366,"C":3.177e20},{"t":510,"d":"P","V":2.559,"C":3.438e20},{"t":510,"d":"P","V":2.767,"C":3.721e20},{"t":510,"d":"P","V":2.992,"C":4.019e20},{"t":510,"d":"P","V":3.236,"C":4.35e20},{"t":510,"d":"P","V":3.499,"C":4.707e20},{"t":510,"d":"P","V":3.784,"C":5.082e20},{"t":510,"d":"P","V":4.093,"C":5.5e20},{"t":510,"d":"P","V":4.426,"C":5.893e20},{"t":510,"d":"P","V":4.786,"C":6.339e20},{"t":510,"d":"P","V":5.176,"C":6.805e20},{"t":510,"d":"P","V":5.598,"C":7.315e20},{"t":510,"d":"P","V":6.053,"C":7.851e20},{"t":510,"d":"P","V":6.546,"C":8.44e20},{"t":510,"d":"P","V":7.079,"C":9.036e20},{"t":510,"d":"P","V":7.656,"C":9.694e20},{"t":510,"d":"P","V":8.279,"C":1.03e21},{"t":510,"d":"P","V":8.954,"C":1.089e21},{"t":510,"d":"P","V":9.683,"C":1.146e21},{"t":510,"d":"P","V":10.47,"C":1.195e21},{"t":510,"d":"P","V":11.32,"C":1.229e21},{"t":510,"d":"P","V":12.25,"C":1.257e21},{"t":510,"d":"P","V":13.24,"C":1.285e21},{"t":510,"d":"P","V":14.32,"C":1.31e21},{"t":510,"d":"P","V":15.49,"C":1.332e21},{"t":510,"d":"P","V":16.75,"C":1.346e21},{"t":510,"d":"P","V":18.11,"C":1.363e21},{"t":510,"d":"P","V":19.59,"C":1.376e21},{"t":510,"d":"P","V":21.18,"C":1.388e21},{"t":510,"d":"P","V":22.91,"C":1.398e21},{"t":510,"d":"P","V":24.77,"C":1.402e21},{"t":510,"d":"P","V":26.79,"C":1.403e21},{"t":510,"d":"P","V":28.97,"C":1.406e21},{"t":510,"d":"P","V":31.33,"C":1.408e21},{"t":510,"d":"P","V":33.88,"C":1.408e21},{"t":510,"d":"P","V":36.64,"C":1.408e21},{"t":510,"d":"P","V":39.63,"C":1.408e21},{"t":510,"d":"P","V":42.85,"C":1.408e21},{"t":510,"d":"P","V":46.34,"C":1.408e21},{"t":510,"d":"P","V":50.12,"C":1.408e21},{"t":510,"d":"P","V":54.2,"C":1.408e21},{"t":510,"d":"P","V":58.61,"C":1.408e21},{"t":510,"d":"P","V":63.39,"C":1.408e21},{"t":510,"d":"P","V":68.55,"C":1.408e21},{"t":510,"d":"P","V":74.13,"C":1.408e21},
{"t":510,"d":"L","V":1.5,"C":2.46e18},{"t":510,"d":"L","V":2,"C":2.57e18},{"t":510,"d":"L","V":2.5,"C":2.69e18},{"t":510,"d":"L","V":3,"C":2.8e18},{"t":510,"d":"L","V":3.5,"C":2.9e18},{"t":510,"d":"L","V":4,"C":3.01e18},{"t":510,"d":"L","V":4.5,"C":3.13e18},{"t":510,"d":"L","V":5,"C":3.22e18},{"t":510,"d":"L","V":5.5,"C":3.33e18},{"t":510,"d":"L","V":6,"C":3.44e18},{"t":510,"d":"L","V":6.5,"C":3.52e18},{"t":510,"d":"L","V":7,"C":3.63e18},{"t":510,"d":"L","V":7.5,"C":3.74e18},{"t":510,"d":"L","V":8,"C":3.85e18},{"t":510,"d":"L","V":8.5,"C":3.95e18},{"t":510,"d":"L","V":9,"C":4.04e18},{"t":510,"d":"L","V":9.5,"C":4.13e18},{"t":510,"d":"L","V":10,"C":4.25e18},{"t":510,"d":"L","V":10.5,"C":4.37e18},{"t":510,"d":"L","V":11,"C":4.49e18},{"t":510,"d":"L","V":11.5,"C":4.61e18},{"t":510,"d":"L","V":12,"C":4.78e18},{"t":510,"d":"L","V":12.5,"C":4.95e18},{"t":510,"d":"L","V":13,"C":5.09e18},{"t":510,"d":"L","V":13.5,"C":5.22e18},{"t":510,"d":"L","V":14,"C":5.38e18},{"t":510,"d":"L","V":14.5,"C":5.53e18},{"t":510,"d":"L","V":15,"C":5.65e18},{"t":510,"d":"L","V":15.5,"C":5.78e18},{"t":510,"d":"L","V":16,"C":5.92e18},{"t":510,"d":"L","V":16.5,"C":6.1e18},{"t":510,"d":"L","V":17,"C":6.24e18},{"t":510,"d":"L","V":17.5,"C":6.38e18},{"t":510,"d":"L","V":18,"C":6.55e18},{"t":510,"d":"L","V":18.5,"C":6.71e18},{"t":510,"d":"L","V":19,"C":6.89e18},{"t":510,"d":"L","V":19.5,"C":7.06e18},{"t":510,"d":"L","V":20,"C":7.26e18},{"t":510,"d":"L","V":20.5,"C":7.48e18},{"t":510,"d":"L","V":21,"C":7.71e18},{"t":510,"d":"L","V":21.5,"C":7.94e18},{"t":510,"d":"L","V":22,"C":8.17e18},{"t":510,"d":"L","V":22.5,"C":8.41e18},{"t":510,"d":"L","V":23,"C":8.69e18},{"t":510,"d":"L","V":23.5,"C":8.95e18},{"t":510,"d":"L","V":24,"C":9.25e18},{"t":510,"d":"L","V":24.5,"C":9.59e18},{"t":510,"d":"L","V":25,"C":1e19},{"t":510,"d":"L","V":25.5,"C":1.06e19},{"t":510,"d":"L","V":26,"C":1.14e19},{"t":510,"d":"L","V":26.5,"C":1.29e19},
{"t":510,"d":"L","V":27,"C":1.59e19},{"t":510,"d":"L","V":27.5,"C":2.09e19},{"t":510,"d":"L","V":28,"C":3.24e19},{"t":510,"d":"L","V":28.5,"C":6.11e19},{"t":510,"d":"L","V":29,"C":1.117e20},{"t":510,"d":"L","V":29.5,"C":1.742e20},{"t":510,"d":"L","V":30,"C":2.421e20},{"t":510,"d":"L","V":30.5,"C":3.055e20},{"t":510,"d":"L","V":31,"C":3.648e20},{"t":510,"d":"L","V":31.5,"C":4.198e20},{"t":510,"d":"L","V":32,"C":4.742e20},{"t":510,"d":"L","V":32.5,"C":5.321e20},{"t":510,"d":"L","V":33,"C":5.916e20},{"t":510,"d":"L","V":33.5,"C":6.577e20},{"t":510,"d":"L","V":34,"C":7.244e20},{"t":510,"d":"L","V":34.5,"C":7.87e20},{"t":510,"d":"L","V":35,"C":8.395e20},{"t":510,"d":"L","V":35.5,"C":8.851e20},{"t":510,"d":"L","V":36,"C":9.268e20},{"t":510,"d":"L","V":36.5,"C":9.638e20},{"t":510,"d":"L","V":37,"C":1e21},{"t":510,"d":"L","V":37.5,"C":1.038e21},{"t":510,"d":"L","V":38,"C":1.072e21},{"t":510,"d":"L","V":39,"C":1.135e21},{"t":510,"d":"L","V":40,"C":1.199e21},{"t":510,"d":"L","V":41,"C":1.253e21},{"t":510,"d":"L","V":42,"C":1.294e21},{"t":510,"d":"L","V":43,"C":1.327e21},{"t":510,"d":"L","V":44,"C":1.355e21},{"t":510,"d":"L","V":45,"C":1.374e21},{"t":510,"d":"L","V":46,"C":1.38e21},{"t":510,"d":"L","V":47,"C":1.38e21},{"t":510,"d":"L","V":48,"C":1.38e21},{"t":510,"d":"L","V":49,"C":1.38e21},{"t":510,"d":"L","V":50,"C":1.38e21},{"t":510,"d":"L","V":51,"C":1.38e21},{"t":510,"d":"L","V":52,"C":1.38e21},{"t":510,"d":"L","V":53,"C":1.38e21},{"t":510,"d":"L","V":54,"C":1.38e21},{"t":510,"d":"L","V":55,"C":1.38e21},{"t":510,"d":"L","V":56,"C":1.38e21},{"t":510,"d":"L","V":57,"C":1.38e21},{"t":510,"d":"L","V":58,"C":1.38e21},{"t":510,"d":"L","V":59,"C":1.38e21},{"t":510,"d":"L","V":60,"C":1.38e21},{"t":510,"d":"L","V":61,"C":1.38e21},{"t":510,"d":"L","V":62,"C":1.38e21},{"t":510,"d":"L","V":63,"C":1.38e21},{"t":510,"d":"L","V":64,"C":1.38e21},{"t":510,"d":"L","V":65,"C":1.38e21},{"t":510,"d":"L","V":66,"C":1.38e21},{"t":510,"d":"L","V":67,"C":1.38e21},{"t":510,"d":"L","V":68,"C":1.38e21},{"t":510,"d":"L","V":69,"C":1.38e21},{"t":510,"d":"L","V":70,"C":1.38e21},{"t":510,"d":"L","V":71,"C":1.38e21},{"t":510,"d":"L","V":72,"C":1.38e21},{"t":510,"d":"L","V":73,"C":1.38e21},{"t":510,"d":"L","V":74,"C":1.38e21},{"t":510,"d":"L","V":75,"C":1.38e21},{"t":510,"d":"L","V":76,"C":1.38e21},{"t":510,"d":"L","V":77,"C":1.38e21},{"t":510,"d":"L","V":78,"C":1.38e21},
{"t":1022,"d":"P","V":1,"C":1.233e20},{"t":1022,"d":"P","V":1.081,"C":1.352e20},{"t":1022,"d":"P","V":1.17,"C":1.486e20},{"t":1022,"d":"P","V":1.265,"C":1.629e20},{"t":1022,"d":"P","V":1.368,"C":1.791e20},{"t":1022,"d":"P","V":1.479,"C":1.963e20},{"t":1022,"d":"P","V":1.6,"C":2.158e20},{"t":1022,"d":"P","V":1.73,"C":2.366e20},{"t":1022,"d":"P","V":1.871,"C":2.6e20},{"t":1022,"d":"P","V":2.023,"C":2.851e20},{"t":1022,"d":"P","V":2.188,"C":3.09e20},{"t":1022,"d":"P","V":2.366,"C":3.342e20},{"t":1022,"d":"P","V":2.559,"C":3.622e20},{"t":1022,"d":"P","V":2.767,"C":3.926e20},{"t":1022,"d":"P","V":2.992,"C":4.246e20},{"t":1022,"d":"P","V":3.236,"C":4.603e20},{"t":1022,"d":"P","V":3.499,"C":4.989e20},{"t":1022,"d":"P","V":3.784,"C":5.395e20},{"t":1022,"d":"P","V":4.093,"C":5.848e20},{"t":1022,"d":"P","V":4.426,"C":6.266e20},{"t":1022,"d":"P","V":4.786,"C":6.745e20},{"t":1022,"d":"P","V":5.176,"C":7.244e20},{"t":1022,"d":"P","V":5.598,"C":7.798e20},{"t":1022,"d":"P","V":6.053,"C":8.375e20},{"t":1022,"d":"P","V":6.546,"C":9.016e20},{"t":1022,"d":"P","V":7.079,"C":9.661e20},{"t":1022,"d":"P","V":7.656,"C":1.038e21},{"t":1022,"d":"P","V":8.279,"C":1.102e21},{"t":1022,"d":"P","V":8.954,"C":1.164e21},{"t":1022,"d":"P","V":9.683,"C":1.222e21},{"t":1022,"d":"P","V":10.47,"C":1.271e21},{"t":1022,"d":"P","V":11.32,"C":1.3e21},{"t":1022,"d":"P","V":12.25,"C":1.321e21},{"t":1022,"d":"P","V":13.24,"C":1.343e21},{"t":1022,"d":"P","V":14.32,"C":1.361e21},{"t":1022,"d":"P","V":15.49,"C":1.377e21},{"t":1022,"d":"P","V":16.75,"C":1.384e21},{"t":1022,"d":"P","V":18.11,"C":1.393e21},{"t":1022,"d":"P","V":19.59,"C":1.4e21},{"t":1022,"d":"P","V":21.18,"C":1.406e21},{"t":1022,"d":"P","V":22.91,"C":1.413e21},{"t":1022,"d":"P","V":24.77,"C":1.413e21},{"t":1022,"d":"P","V":26.79,"C":1.413e21},{"t":1022,"d":"P","V":28.97,"C":1.413e21},{"t":1022,"d":"P","V":31.33,"C":1.413e21},{"t":1022,"d":"P","V":33.88,"C":1.413e21},{"t":1022,"d":"P","V":36.64,"C":1.413e21},{"t":1022,"d":"P","V":39.63,"C":1.413e21},{"t":1022,"d":"P","V":42.85,"C":1.413e21},{"t":1022,"d":"P","V":46.34,"C":1.413e21},{"t":1022,"d":"P","V":50.12,"C":1.413e21},{"t":1022,"d":"P","V":54.2,"C":1.413e21},{"t":1022,"d":"P","V":58.61,"C":1.413e21},{"t":1022,"d":"P","V":63.39,"C":1.413e21},{"t":1022,"d":"P","V":68.55,"C":1.413e21},{"t":1022,"d":"P","V":74.13,"C":1.413e21},
{"t":1022,"d":"L","V":1.5,"C":2.46e18},{"t":1022,"d":"L","V":2,"C":2.57e18},{"t":1022,"d":"L","V":2.5,"C":2.69e18},{"t":1022,"d":"L","V":3,"C":2.8e18},{"t":1022,"d":"L","V":3.5,"C":2.9e18},{"t":1022,"d":"L","V":4,"C":3.01e18},{"t":1022,"d":"L","V":4.5,"C":3.13e18},{"t":1022,"d":"L","V":5,"C":3.22e18},{"t":1022,"d":"L","V":5.5,"C":3.33e18},{"t":1022,"d":"L","V":6,"C":3.44e18},{"t":1022,"d":"L","V":6.5,"C":3.52e18},{"t":1022,"d":"L","V":7,"C":3.63e18},{"t":1022,"d":"L","V":7.5,"C":3.74e18},{"t":1022,"d":"L","V":8,"C":3.85e18},{"t":1022,"d":"L","V":8.5,"C":3.95e18},{"t":1022,"d":"L","V":9,"C":4.04e18},{"t":1022,"d":"L","V":9.5,"C":4.13e18},{"t":1022,"d":"L","V":10,"C":4.25e18},{"t":1022,"d":"L","V":10.5,"C":4.37e18},{"t":1022,"d":"L","V":11,"C":4.49e18},{"t":1022,"d":"L","V":11.5,"C":4.61e18},{"t":1022,"d":"L","V":12,"C":4.78e18},{"t":1022,"d":"L","V":12.5,"C":4.95e18},{"t":1022,"d":"L","V":13,"C":5.09e18},{"t":1022,"d":"L","V":13.5,"C":5.22e18},{"t":1022,"d":"L","V":14,"C":5.38e18},{"t":1022,"d":"L","V":14.5,"C":5.53e18},{"t":1022,"d":"L","V":15,"C":5.65e18},{"t":1022,"d":"L","V":15.5,"C":5.78e18},{"t":1022,"d":"L","V":16,"C":5.92e18},{"t":1022,"d":"L","V":16.5,"C":6.1e18},{"t":1022,"d":"L","V":17,"C":6.24e18},{"t":1022,"d":"L","V":17.5,"C":6.38e18},{"t":1022,"d":"L","V":18,"C":6.55e18},{"t":1022,"d":"L","V":18.5,"C":6.71e18},{"t":1022,"d":"L","V":19,"C":6.89e18},{"t":1022,"d":"L","V":19.5,"C":7.06e18},{"t":1022,"d":"L","V":20,"C":7.26e18},{"t":1022,"d":"L","V":20.5,"C":7.48e18},{"t":1022,"d":"L","V":21,"C":7.71e18},{"t":1022,"d":"L","V":21.5,"C":7.94e18},{"t":1022,"d":"L","V":22,"C":8.17e18},{"t":1022,"d":"L","V":22.5,"C":8.41e18},{"t":1022,"d":"L","V":23,"C":8.69e18},{"t":1022,"d":"L","V":23.5,"C":8.95e18},{"t":1022,"d":"L","V":24,"C":9.25e18},{"t":1022,"d":"L","V":24.5,"C":9.59e18},{"t":1022,"d":"L","V":25,"C":1e19},{"t":1022,"d":"L","V":25.5,"C":1.06e19},{"t":1022,"d":"L","V":26,"C":1.14e19},{"t":1022,"d":"L","V":26.5,"C":1.29e19},
{"t":1022,"d":"L","V":27,"C":1.7e19},{"t":1022,"d":"L","V":27.5,"C":2.51e19},{"t":1022,"d":"L","V":28,"C":5.75e19},{"t":1022,"d":"L","V":28.5,"C":1.26e20},{"t":1022,"d":"L","V":29,"C":2.14e20},{"t":1022,"d":"L","V":29.5,"C":2.95e20},{"t":1022,"d":"L","V":30,"C":3.72e20},{"t":1022,"d":"L","V":30.5,"C":4.43e20},{"t":1022,"d":"L","V":31,"C":5.15e20},{"t":1022,"d":"L","V":31.5,"C":5.92e20},{"t":1022,"d":"L","V":32,"C":6.79e20},{"t":1022,"d":"L","V":32.5,"C":7.66e20},{"t":1022,"d":"L","V":33,"C":8.36e20},{"t":1022,"d":"L","V":33.5,"C":8.95e20},{"t":1022,"d":"L","V":34,"C":9.46e20},{"t":1022,"d":"L","V":34.5,"C":9.93e20},{"t":1022,"d":"L","V":35,"C":1.042e21},{"t":1022,"d":"L","V":35.5,"C":1.086e21},{"t":1022,"d":"L","V":36,"C":1.127e21},{"t":1022,"d":"L","V":36.5,"C":1.167e21},{"t":1022,"d":"L","V":37,"C":1.208e21},{"t":1022,"d":"L","V":37.5,"C":1.245e21},{"t":1022,"d":"L","V":38,"C":1.276e21},{"t":1022,"d":"L","V":39,"C":1.321e21},{"t":1022,"d":"L","V":40,"C":1.355e21},{"t":1022,"d":"L","V":41,"C":1.38e21},{"t":1022,"d":"L","V":42,"C":1.396e21},{"t":1022,"d":"L","V":43,"C":1.409e21},{"t":1022,"d":"L","V":44,"C":1.416e21},{"t":1022,"d":"L","V":45,"C":1.422e21},{"t":1022,"d":"L","V":46,"C":1.422e21},{"t":1022,"d":"L","V":47,"C":1.422e21},{"t":1022,"d":"L","V":48,"C":1.422e21},{"t":1022,"d":"L","V":49,"C":1.422e21},{"t":1022,"d":"L","V":50,"C":1.422e21},{"t":1022,"d":"L","V":51,"C":1.422e21},{"t":1022,"d":"L","V":52,"C":1.422e21},{"t":1022,"d":"L","V":53,"C":1.422e21},{"t":1022,"d":"L","V":54,"C":1.422e21},{"t":1022,"d":"L","V":55,"C":1.422e21},{"t":1022,"d":"L","V":56,"C":1.422e21},{"t":1022,"d":"L","V":57,"C":1.422e21},{"t":1022,"d":"L","V":58,"C":1.422e21},{"t":1022,"d":"L","V":59,"C":1.422e21},{"t":1022,"d":"L","V":60,"C":1.422e21},{"t":1022,"d":"L","V":61,"C":1.422e21},{"t":1022,"d":"L","V":62,"C":1.422e21},{"t":1022,"d":"L","V":63,"C":1.422e21},{"t":1022,"d":"L","V":64,"C":1.422e21},{"t":1022,"d":"L","V":65,"C":1.422e21},{"t":1022,"d":"L","V":66,"C":1.422e21},{"t":1022,"d":"L","V":67,"C":1.422e21},{"t":1022,"d":"L","V":68,"C":1.422e21},{"t":1022,"d":"L","V":69,"C":1.422e21},{"t":1022,"d":"L","V":70,"C":1.422e21},{"t":1022,"d":"L","V":71,"C":1.422e21},{"t":1022,"d":"L","V":72,"C":1.422e21},{"t":1022,"d":"L","V":73,"C":1.422e21},{"t":1022,"d":"L","V":74,"C":1.422e21},{"t":1022,"d":"L","V":75,"C":1.422e21},{"t":1022,"d":"L","V":76,"C":1.422e21},{"t":1022,"d":"L","V":77,"C":1.422e21},{"t":1022,"d":"L","V":78,"C":1.422e21}
]},
"encoding":{
"x":{"field":"V","type":"quantitative","scale":{"type":"log","domain":[0.7,200],"nice":false},"axis":{"title":"Reverse bias (V)","values":[0.8,0.9,1,2,3,4,5,6,7,8,9,10,20,30,40,50,60,70,80,90,100],"labelExpr":"datum.value == 1 ? '1' : datum.value == 10 ? '10' : datum.value == 100 ? '100' : ''","tickSize":{"condition":{"test":"datum.value == 1 || datum.value == 10 || datum.value == 100","value":10},"value":5},"tickWidth":2,"tickColor":"black","domainColor":"black","domainWidth":2,"grid":false,"labelFont":"Liberation Sans","labelFontSize":26,"labelColor":"black","labelPadding":8,"labelOverlap":false,"labelFlush":false,"titleFont":"Liberation Sans","titleFontSize":45,"titleFontWeight":"normal","titleColor":"black","titleX":443,"titleY":79,"titleBaseline":"alphabetic","titleAlign":"center"}},
"y":{"field":"C","type":"quantitative","scale":{"type":"log","domain":[1e18,3e21],"nice":false},"axis":{"title":"1/C²(F⁻²)","values":[1e18,2e18,3e18,4e18,5e18,6e18,7e18,8e18,9e18,1e19,2e19,3e19,4e19,5e19,6e19,7e19,8e19,9e19,1e20,2e20,3e20,4e20,5e20,6e20,7e20,8e20,9e20,1e21,2e21],"labelExpr":"datum.value == 1e18 ? '10¹⁸' : datum.value == 1e19 ? '10¹⁹' : datum.value == 1e20 ? '10²⁰' : datum.value == 1e21 ? '10²¹' : ''","tickSize":{"condition":{"test":"datum.value == 1e18 || datum.value == 1e19 || datum.value == 1e20 || datum.value == 1e21","value":10},"value":5},"tickWidth":2,"tickColor":"black","domainColor":"black","domainWidth":2,"grid":false,"labelFont":"Liberation Sans, Noto Sans","labelFontSize":26,"labelColor":"black","labelPadding":10,"labelOverlap":false,"labelFlush":false,"titleFont":"Liberation Sans, Noto Sans","titleFontSize":43,"titleFontWeight":"normal","titleColor":"black","titleX":-87,"titleY":422,"titleAngle":270,"titleBaseline":"alphabetic","titleAlign":"left"}}
},
"layer":[
{"transform":[{"filter":"datum.t != 0"}],"mark":{"type":"line","strokeWidth":1},"encoding":{"color":{"field":"t","type":"nominal","scale":{"domain":[1022,510,254,126,62,30,0],"range":["#ff0000","#00ff00","#0000ff","#808000","#ff00ff","#00ffff","#000000"]},"legend":null},"detail":{"field":"d","type":"nominal"}}},
{"transform":[{"filter":"datum.t == 0"}],"mark":{"type":"line","strokeWidth":1.4},"encoding":{"color":{"field":"t","type":"nominal","scale":{"domain":[1022,510,254,126,62,30,0],"range":["#ff0000","#00ff00","#0000ff","#808000","#ff00ff","#00ffff","#000000"]},"legend":null},"detail":{"field":"d","type":"nominal"}}},
{"mark":{"type":"point","shape":"square","opacity":1,"strokeWidth":1},"encoding":{
"stroke":{"field":"t","type":"nominal","title":["293 K","time under 0 V:"],"scale":{"domain":[0,30,62,126,254,510,1022],"range":["#000000","#00ffff","#ff00ff","#808000","#0000ff","#00ff00","#ff0000"]},"legend":{"symbolType":"M-1.03,0H2.97M0.79,-0.18H1.15V0.18H0.79Z","labelExpr":"datum.label + ' min'"}},
"fill":{"field":"t","type":"nominal","title":["293 K","time under 0 V:"],"scale":{"domain":[0,30,62,126,254,510,1022],"range":["#ffffff","#00ffff","#ff00ff","#808000","#0000ff","#00ff00","#ffffff"]},"legend":{"symbolType":"M-1.03,0H2.97M0.79,-0.18H1.15V0.18H0.79Z","labelExpr":"datum.label + ' min'"}},
"size":{"field":"t","type":"quantitative","scale":{"type":"threshold","domain":[1,1000],"range":[12,30,16]},"legend":null}}},
{"data":{"values":[{"V":13.54,"V2":18.6,"C":1.615e21},{"V":47.48,"V2":65.5,"C":1.0875e21}]},"mark":{"type":"rule","color":"black","strokeWidth":1.2},"encoding":{"x2":{"field":"V2"}}},
{"data":{"values":[{"V":14.1,"C":1.615e21},{"V":49.43,"C":1.0875e21}]},"mark":{"type":"point","shape":"M-1,0L1,-0.45L1,0.45Z","size":169,"filled":true,"color":"black","opacity":1}},
{"data":{"values":[{"V":0.9036,"V2":1.737,"C":2.576e21,"C2":1.379e21}]},"mark":{"type":"rect","fill":"white","stroke":"#333333","strokeWidth":1},"encoding":{"x2":{"field":"V2"},"y2":{"field":"C2"}}},
{"data":{"values":[{"V":1.2528,"C":1.615e21}]},"mark":{"type":"text","text":"B to A","font":"Liberation Sans","fontSize":33,"align":"center","baseline":"alphabetic","color":"black"}},
{"data":{"values":[{"V":5.258,"C":1.143e21}]},"mark":{"type":"text","text":"PAD","font":"Liberation Sans","fontSize":32,"align":"center","baseline":"alphabetic","color":"black"}},
{"data":{"values":[{"V":27.69,"C":1.869e21}]},"mark":{"type":"text","text":"V","font":"Liberation Sans","fontSize":36,"align":"center","baseline":"alphabetic","color":"black"}},
{"data":{"values":[{"V":34.14,"C":1.65e21}]},"mark":{"type":"text","text":"dep","font":"Liberation Sans","fontSize":25,"align":"center","baseline":"alphabetic","color":"black"}},
{"data":{"values":[{"V":60.13,"C":5.575e20}]},"mark":{"type":"text","text":"LGAD","font":"Liberation Sans","fontSize":38,"align":"center","baseline":"alphabetic","color":"black"}},
{"data":{"values":[{"V":0.9694,"C":1.373e18}]},"mark":{"type":"text","text":"(b)","font":"Liberation Sans","fontSize":32,"align":"center","baseline":"alphabetic","color":"black"}}
]}
